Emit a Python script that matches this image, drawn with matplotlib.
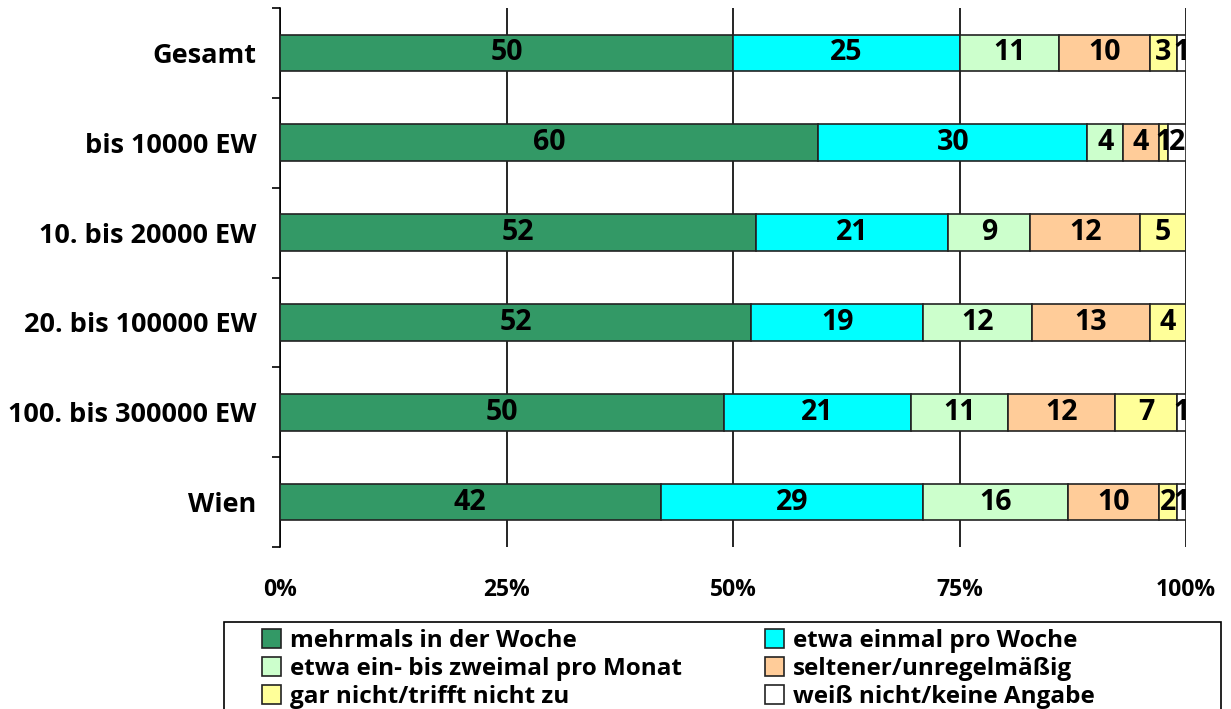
import matplotlib

matplotlib.use("Agg")
import matplotlib.pyplot as plt
from matplotlib.patches import Rectangle
import numpy as np

plt.rcParams["font.family"] = ["Open Sans", "DejaVu Sans"]

CATEGORIES = ["Gesamt", "bis 10000 EW", "10. bis 20000 EW",
              "20. bis 100000 EW", "100. bis 300000 EW", "Wien"]
SERIES = ["mehrmals in der Woche", "etwa einmal pro Woche",
          "etwa ein- bis zweimal pro Monat", "seltener/unregelmäßig",
          "gar nicht/trifft nicht zu", "weiß nicht/keine Angabe"]
COLORS = ["#339966", "#00FFFF", "#CCFFCC", "#FFCC99", "#FFFF99", "#FFFFFF"]

mehrmals = [50, 60, 52, 52, 50, 42]
einmal_woche = [25, 30, 21, 19, 21, 29]
monat = [11, 4, 9, 12, 11, 16]
seltener = [10, 4, 12, 13, 12, 10]
gar_nicht = [3, 1, 5, 4, 7, 2]
weiss_nicht = [1, 2, 0, 0, 1, 1]

values = np.array([mehrmals, einmal_woche, monat, seltener, gar_nicht, weiss_nicht], dtype=float)
shares = values / values.sum(axis=0) * 100

W, H = 1231, 709
fig = plt.figure(figsize=(W / 100, H / 100), dpi=100)
ax = fig.add_axes([280 / W, 1 - 547 / H, (1186 - 280) / W, 539 / H])

y = np.arange(len(CATEGORIES))
left = np.zeros(len(CATEGORIES))
bars = []
for i, (name, color) in enumerate(zip(SERIES, COLORS)):
    b = ax.barh(y, shares[i], left=left, height=0.41, color=color,
                edgecolor="#222222", linewidth=1.2, label=name, zorder=3)
    bars.append(b)
    for j in range(len(CATEGORIES)):
        if values[i, j] > 0:
            ax.text(left[j] + shares[i, j] / 2, y[j], f"{values[i, j]:.0f}",
                    ha="center", va="center", fontsize=20.5, fontweight="bold",
                    zorder=4)
    left += shares[i]

ax.set_xlim(0, 100)
ax.set_ylim(len(CATEGORIES) - 0.5, -0.5)
ax.set_xticks([0, 25, 50, 75, 100])
ax.set_xticklabels(["0%", "25%", "50%", "75%", "100%"], fontsize=16.5, fontweight="bold")
ax.tick_params(axis="x", length=0, pad=22)
ax.set_yticks(y)
ax.set_yticklabels(CATEGORIES, fontsize=19.5, fontweight="bold")
ax.tick_params(axis="y", which="major", length=0, pad=17)
ax.set_yticks(np.arange(-0.5, len(CATEGORIES)), minor=True)
ax.tick_params(axis="y", which="minor", length=6, width=1.2, direction="out")
ax.grid(axis="x", color="black", linewidth=1.2, zorder=0)
for s in ["top", "bottom", "right"]:
    ax.spines[s].set_visible(False)
ax.spines["left"].set_linewidth(1.2)

# legend box runs off the bottom of the image in the original
fig.patches.append(Rectangle((224 / W, -10 / H), (1221 - 224) / W, (H - 622 + 10) / H,
                             transform=fig.transFigure, facecolor="none",
                             edgecolor="black", linewidth=1.2))

# legend fills column-wise, so reorder to read row by row like the original
order = [0, 2, 4, 1, 3, 5]
leg = fig.legend(handles=[bars[k] for k in order], labels=[SERIES[k] for k in order],
                 loc="upper left", bbox_to_anchor=(262 / W, 1 - 629 / H), ncol=2,
                 frameon=False, prop={"size": 17.5, "weight": "bold"},
                 handlelength=0.8, handleheight=0.8, handletextpad=0.35,
                 labelspacing=0.16, columnspacing=3.4, borderpad=0,
                 borderaxespad=0)

fig.savefig("out.png", dpi=100)
